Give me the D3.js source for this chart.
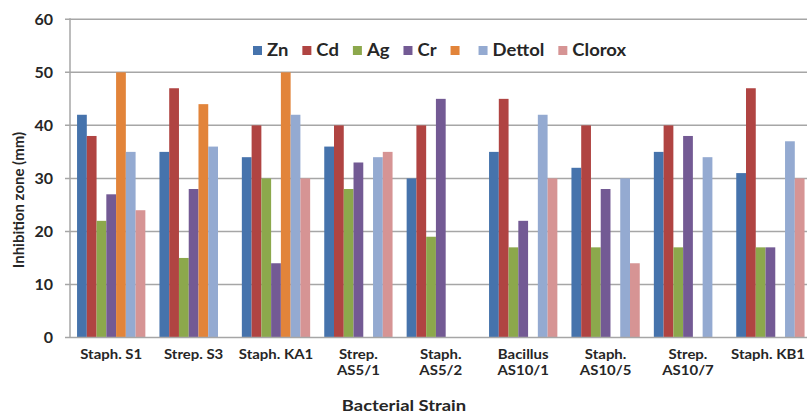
<!DOCTYPE html>
<html><head><meta charset="utf-8">
<script src="https://cdn.jsdelivr.net/npm/d3@7"></script>
<style>
body{margin:0;background:#fff;}
svg{display:block;font-family:Lato,"Open Sans",sans-serif;font-weight:bold;}
</style></head><body>
<svg id="c" width="807" height="415"></svg>
<script>
const strains = [["Staph. S1"],["Strep. S3"],["Staph. KA1"],["Strep.","AS5/1"],["Staph.","AS5/2"],["Bacillus","AS10/1"],["Staph.","AS10/5"],["Strep.","AS10/7"],["Staph. KB1"]];
const seriesNames = ["Zn","Cd","Ag","Cr","","Dettol","Clorox"];
const seriesColors = ["#4673AC","#B04442","#8CA84C","#735A94","#E2843A","#94AAD1","#D69494"];
const Zn     = [42,35,34,36,30,35,32,35,31];
const Cd     = [38,47,40,40,40,45,40,40,47];
const Ag     = [22,15,30,28,19,17,17,17,17];
const Cr     = [27,28,14,33,45,22,28,38,17];
const Orange = [50,44,50,0,0,0,0,0,0];
const Dettol = [35,36,42,34,0,42,30,34,37];
const Clorox = [24,0,30,35,0,30,14,0,30];
const yTicks = [0,10,20,30,40,50,60];

const seriesValues = [Zn,Cd,Ag,Cr,Orange,Dettol,Clorox];
const svg = d3.select("#c");
const mL = 70, mR = 811.6, mT = 19.3, mB = 337.5;
const x0 = d3.scaleBand().domain(d3.range(strains.length)).range([mL,mR]).paddingInner(0.171).paddingOuter(0.0855);
const x1 = d3.scaleBand().domain(d3.range(seriesNames.length)).range([0,x0.bandwidth()]);
const y = d3.scaleLinear().domain([0,60]).range([mB,mT]);
const ink = "#262626";

// gridlines
svg.append("g").selectAll("line").data(yTicks.filter(d=>d>0)).join("line")
 .attr("x1",mL-5).attr("x2",807).attr("y1",d=>y(d)).attr("y2",d=>y(d))
 .attr("stroke","#A6A6A6").attr("stroke-width",1.5);

// bars
const groups = svg.append("g").selectAll("g").data(d3.range(strains.length)).join("g")
 .attr("transform",i=>`translate(${x0(i)},0)`);
groups.selectAll("rect").data(i=>seriesValues.map((s,k)=>({k,v:s[i]}))).join("rect")
 .attr("x",d=>x1(d.k)).attr("width",x1.bandwidth())
 .attr("y",d=>y(d.v)).attr("height",d=>mB-y(d.v))
 .attr("fill",d=>seriesColors[d.k]);

// axes lines
svg.append("line").attr("x1",mL).attr("x2",mL).attr("y1",mT-1).attr("y2",mB)
 .attr("stroke","#A6A6A6").attr("stroke-width",1.5);
svg.append("line").attr("x1",mL-5).attr("x2",807).attr("y1",mB).attr("y2",mB)
 .attr("stroke","#A6A6A6").attr("stroke-width",1.5);

// y tick labels
svg.append("g").selectAll("text").data(yTicks).join("text")
 .attr("x",53).attr("y",d=>y(d)).attr("dy","0.36em").attr("text-anchor","end")
 .attr("font-size",16).attr("fill",ink).text(d=>d);

// y title
svg.append("text").attr("transform","translate(24,200) rotate(-90)").attr("text-anchor","middle")
 .attr("font-size",15).attr("fill",ink).text("Inhibition zone (mm)");

// category labels
const cl = svg.append("g").selectAll("text").data(strains).join("text")
 .attr("text-anchor","middle").attr("font-size",13).attr("fill",ink)
 .attr("transform",(d,i)=>`translate(${Math.min(x0(i)+x0.bandwidth()/2, 768)},359) scale(1.15,1)`);
cl.selectAll("tspan").data(d=>d).join("tspan").attr("x",0).attr("dy",(d,j)=>j?16:0).text(d=>d);

// x title
svg.append("text").attr("transform","translate(404,411) scale(1.15,1)").attr("text-anchor","middle")
 .attr("font-size",16).attr("fill",ink).text("Bacterial Strain");

// legend
const lg = svg.append("g");
const sx = 1.12;
let lx = 253;
seriesNames.forEach((n,k)=>{
  lg.append("rect").attr("x",lx).attr("y",46).attr("width",9).attr("height",9).attr("fill",seriesColors[k]);
  const t = lg.append("text").attr("transform",`translate(${lx+14},50.5) scale(${sx},1)`).attr("dy","0.36em")
    .attr("font-size",16.5).attr("fill",ink).text(n);
  const w = n ? t.node().getComputedTextLength()*sx : 0;
  lx += 14 + w + 14;
});
</script></body></html>
